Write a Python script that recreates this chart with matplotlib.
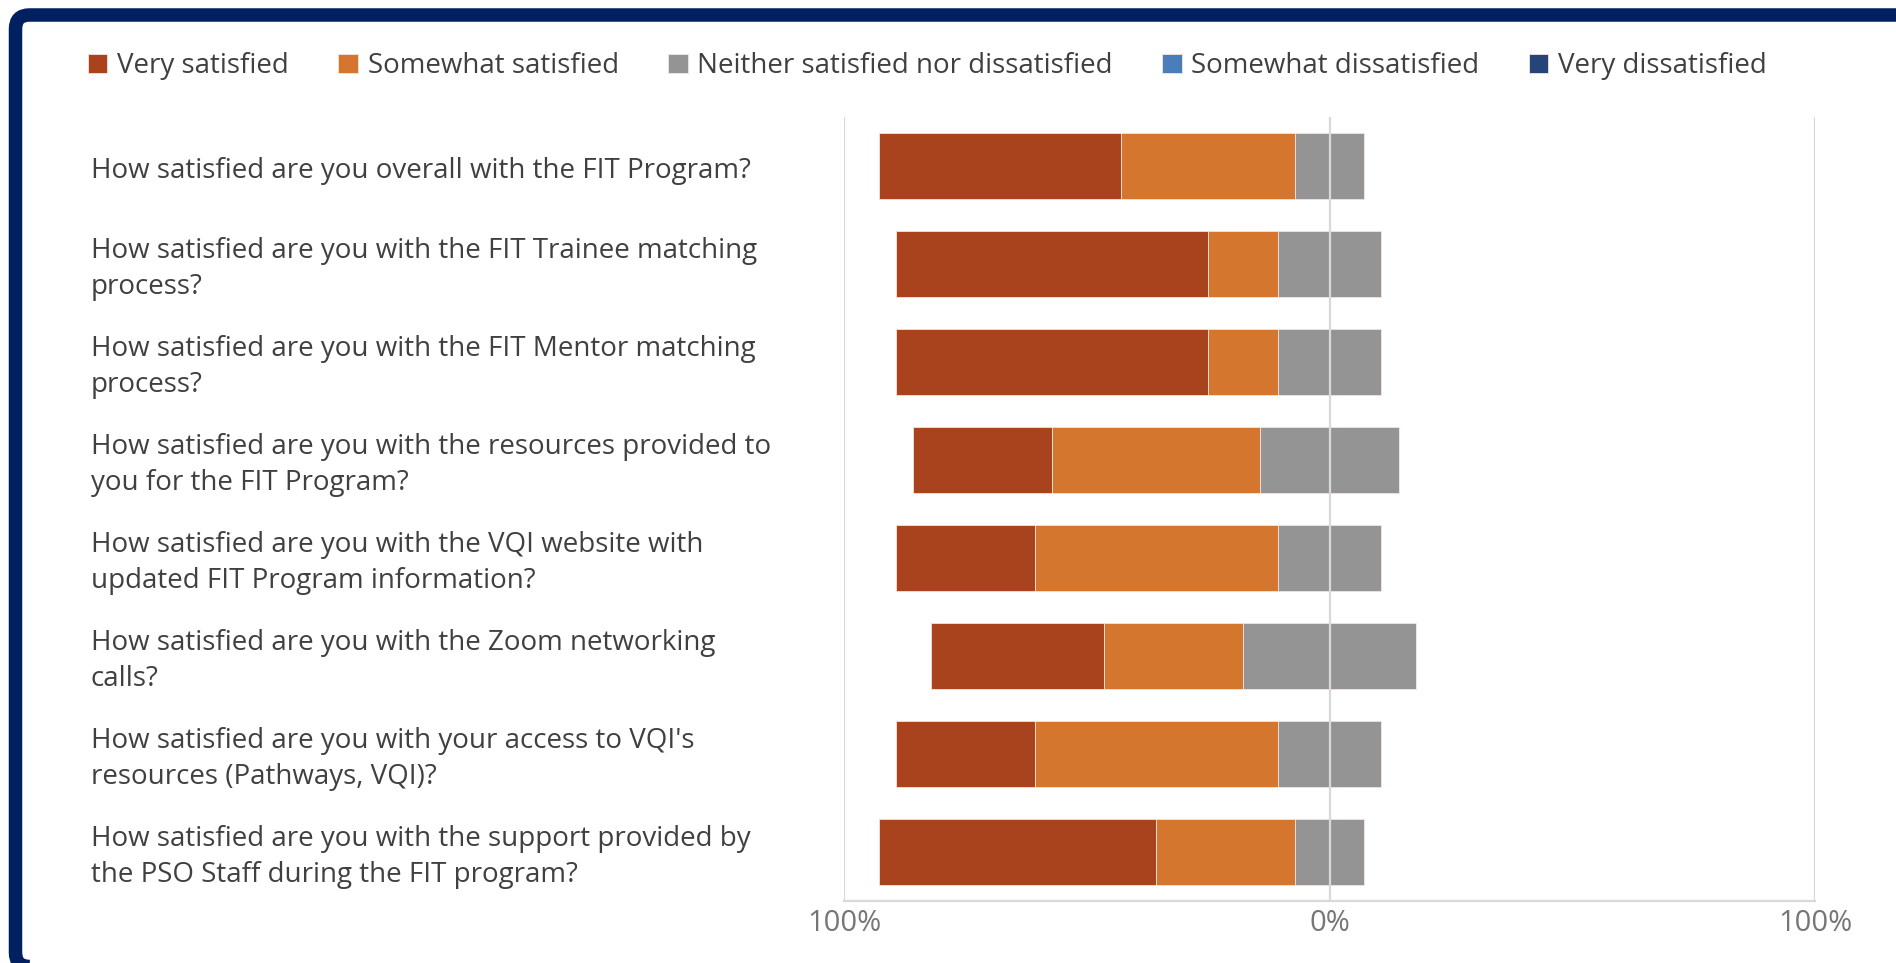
import numpy as np
import matplotlib.pyplot as plt
import matplotlib.patches as mpatches
import matplotlib.transforms as mtransforms

plt.rcParams["font.family"] = ["Open Sans", "DejaVu Sans"]

# ---- data (percent of respondents)
questions = [
    "How satisfied are you overall with the FIT Program?",
    "How satisfied are you with the FIT Trainee matching\nprocess?",
    "How satisfied are you with the FIT Mentor matching\nprocess?",
    "How satisfied are you with the resources provided to\nyou for the FIT Program?",
    "How satisfied are you with the VQI website with\nupdated FIT Program information?",
    "How satisfied are you with the Zoom networking\ncalls?",
    "How satisfied are you with your access to VQI's\nresources (Pathways, VQI)?",
    "How satisfied are you with the support provided by\nthe PSO Staff during the FIT program?",
]
very_sat = [50.0, 64.3, 64.3, 28.6, 28.6, 35.7, 28.6, 57.1]
somewhat_sat = [35.7, 14.3, 14.3, 42.9, 50.0, 28.6, 50.0, 28.6]
neutral = [14.3, 21.4, 21.4, 28.6, 21.4, 35.7, 21.4, 14.3]
somewhat_dis = [0, 0, 0, 0, 0, 0, 0, 0]
very_dis = [0, 0, 0, 0, 0, 0, 0, 0]

series = ["Very satisfied", "Somewhat satisfied",
          "Neither satisfied nor dissatisfied",
          "Somewhat dissatisfied", "Very dissatisfied"]
colors = ["#A9431E", "#D5762E", "#949494", "#4A7EBB", "#264478"]
tick_vals = [-100, 0, 100]
tick_labels = ["100%", "0%", "100%"]

TEXT = "#404040"
GRID = "#D9D9D9"

fig = plt.figure(figsize=(18.96, 9.63), dpi=100)
ax = fig.add_axes([844 / 1896, 1 - 901 / 963, 971 / 1896, 784 / 963])

y = np.arange(len(questions))
vs = np.array(very_sat)
ss = np.array(somewhat_sat)
nn = np.array(neutral)
sd = np.array(somewhat_dis)
vd = np.array(very_dis)

left = -(vs + ss + nn / 2)
starts = [left, left + vs, left + vs + ss, nn / 2, nn / 2 + sd]
widths = [vs, ss, nn, sd, vd]
h = 0.665
for name, col, st, w in zip(series, colors, starts, widths):
    ax.barh(y, w, left=st, height=h, color=col, label=name,
            edgecolor="#f3e3dc", linewidth=0.6, zorder=2)

ax.set_xlim(-100, 100)
ax.set_ylim(len(questions) - 0.5, -0.5)
ax.axvline(0, color=GRID, lw=1.6, zorder=3)
for v in (-100, 100):
    ax.axvline(v, color=GRID, lw=1.6, zorder=1)
for s in ("top", "left", "right"):
    ax.spines[s].set_visible(False)
ax.spines["bottom"].set_color(GRID)
ax.spines["bottom"].set_linewidth(1.6)
ax.set_yticks([])
ax.set_xticks(tick_vals)
ax.set_xticklabels(tick_labels, fontsize=21, color="#767676")
ax.tick_params(axis="x", length=0, pad=6)

# category labels, left aligned at the card margin (nudged a few px down)
trans = mtransforms.blended_transform_factory(fig.transFigure, ax.transData)
trans = trans + mtransforms.ScaledTranslation(0, -5 / 100, fig.dpi_scale_trans)
for yi, q in zip(y, questions):
    ax.text(91 / 1896, yi, q, transform=trans, ha="left", va="center",
            fontsize=20, color=TEXT, linespacing=1.36)

handles, labels = ax.get_legend_handles_labels()
fig.legend(handles, labels, loc="center left", ncol=5,
           bbox_to_anchor=(63 / 1896, 1 - 66 / 963), frameon=False,
           fontsize=20, handlelength=0.7, handleheight=0.7,
           handletextpad=0.35, columnspacing=1.78, labelcolor=TEXT)

# navy card border (rounded top-left corner, runs off right/bottom edges)
border = mpatches.FancyBboxPatch(
    (15.5, -3.5), 1896 + 40, 963 - 15 + 3.5,
    boxstyle="round,pad=0,rounding_size=14",
    transform=mtransforms.IdentityTransform(),
    facecolor="none", edgecolor="#002060", linewidth=13.5 * 72 / 100)
fig.add_artist(border)

fig.savefig("out.png", dpi=100)
